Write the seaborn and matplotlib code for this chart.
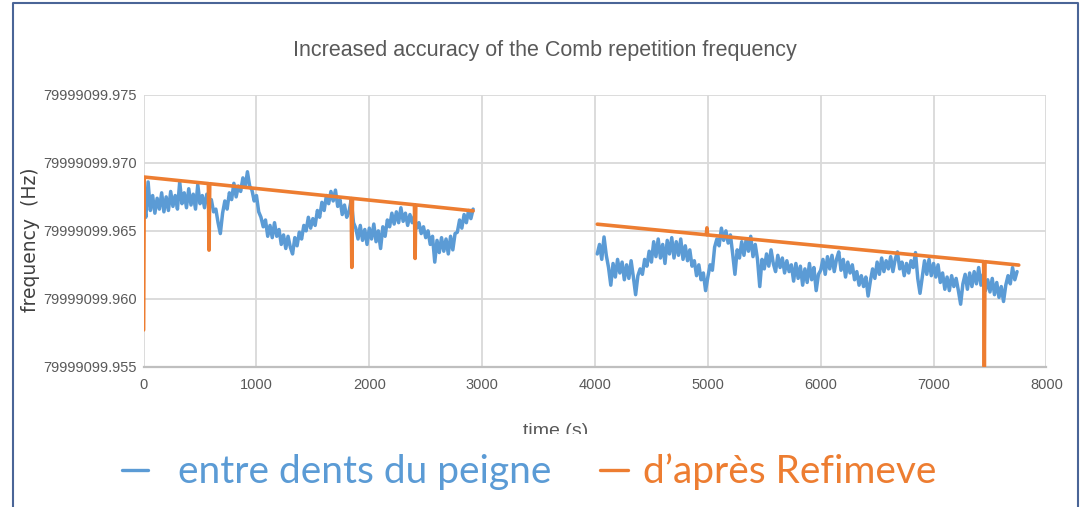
import numpy as np
import pandas as pd
import matplotlib
matplotlib.use("Agg")
import matplotlib.pyplot as plt
import seaborn as sns
from matplotlib.lines import Line2D
from matplotlib.patches import Rectangle
from matplotlib.ticker import FixedLocator, FuncFormatter

# ---------------- data (frequency offsets in mHz above 79999099.960 Hz) ----------------
BASE_HZ = 79999099.960

comb_time_1 = np.arange(0, 2921, 20)
comb_mhz_1 = [
    7.2, 6.0, 8.6, 6.5, 7.6, 6.3, 7.4, 6.6, 7.8, 6.4,
    7.5, 6.5, 7.9, 6.8, 7.6, 6.6, 8.6, 7.0, 7.8, 6.7,
    8.1, 6.9, 7.7, 6.6, 8.4, 7.0, 7.6, 6.7, 7.7, 6.9,
    7.3, 6.4, 6.6, 5.6, 4.8, 6.3, 7.2, 6.6, 7.8, 7.3,
    8.5, 7.5, 8.3, 7.9, 8.9, 8.2, 9.35, 8.3, 8.0, 7.2,
    7.6, 6.4, 6.0, 5.3, 5.8, 4.6, 5.4, 4.5, 5.6, 4.6,
    5.1, 4.0, 4.7, 3.7, 4.6, 3.8, 3.3, 4.5, 3.9, 4.9,
    4.4, 5.4, 5.0, 6.0, 5.2, 5.9, 5.4, 6.5, 6.0, 7.1,
    6.5, 7.6, 7.0, 7.9, 7.2, 8.0, 6.8, 7.3, 6.2, 6.9,
    6.0, 6.4, 7.3, 5.6, 5.2, 4.4, 5.4, 4.3, 5.1, 4.0,
    5.2, 4.4, 5.5, 4.2, 5.0, 3.7, 5.3, 4.6, 5.8, 5.3,
    6.3, 5.5, 6.4, 5.6, 6.7, 5.7, 6.3, 5.4, 6.2, 5.6,
    6.1, 5.2, 5.6, 4.8, 5.3, 4.5, 5.0, 4.0, 4.6, 2.7,
    4.3, 3.4, 4.5, 3.5, 4.4, 3.3, 4.6, 3.6, 4.8, 4.9,
    5.8, 5.2, 6.2, 5.6, 6.5, 5.9, 6.6,
]

comb_time_2 = np.arange(4020, 7741, 20)
comb_mhz_2 = [
    3.3, 4.0, 2.9, 4.55, 3.2, 2.3, 1.0, 2.6, 1.6, 2.9,
    1.9, 2.7, 1.4, 2.5, 1.5, 2.8, 1.6, 0.3, 1.7, 2.2,
    1.8, 2.9, 2.4, 3.5, 2.7, 4.2, 3.1, 4.4, 3.0, 4.0,
    2.6, 4.3, 3.3, 4.5, 3.0, 4.2, 3.2, 4.4, 2.9, 3.9,
    2.8, 3.6, 2.4, 2.8, 1.7, 2.5, 1.4, 1.9, 0.6, 1.6,
    2.5, 2.1, 3.8, 4.4, 3.9, 5.2, 4.3, 5.0, 4.1, 4.7,
    3.3, 1.8, 3.6, 3.0, 4.2, 3.2, 4.4, 3.5, 4.6, 3.1,
    4.0, 2.9, 0.9, 2.9, 2.2, 3.3, 2.4, 3.6, 2.6, 2.0,
    3.2, 2.3, 3.0, 1.9, 2.8, 2.0, 2.5, 1.3, 2.6, 1.5,
    2.4, 1.0, 2.2, 1.2, 2.6, 1.4, 2.3, 0.6, 1.8, 2.1,
    2.9, 1.8, 3.1, 2.2, 3.2, 2.0, 2.9, 3.45, 2.1, 2.9,
    1.6, 2.7, 1.9, 2.5, 1.4, 2.0, 1.0, 1.7, 0.9, 1.6,
    0.2, 1.3, 2.2, 1.5, 2.7, 1.8, 3.0, 2.0, 2.8, 2.2,
    3.1, 2.0, 2.9, 3.45, 2.2, 2.7, 1.7, 2.6, 1.9, 2.8,
    2.3, 3.4, 1.5, 0.4, 1.6, 2.8, 1.8, 2.9, 1.7, 2.6,
    1.6, 2.5, 1.2, 1.9, 0.7, 1.6, 0.6, 1.7, 0.9, 1.5,
    0.6, -0.4, 1.1, 1.8, 0.7, 1.9, 0.9, 2.0, 1.1, 2.3,
    1.0, 1.8, 0.6, 1.4, 0.5, 1.5, 0.3, 1.2, 0.1, 0.9,
    -0.2, 1.0, 1.7, 1.1, 2.3, 1.4, 2.0,
]

refimeve_time_1 = [0, 6, 574, 580, 586, 1839, 1845, 1851, 2400, 2406, 2412, 2920]
refimeve_mhz_1 = [-2.3, 8.96, 8.48, 3.58, 8.47, 7.40, 2.31, 7.39, 6.92, 2.97, 6.91, 6.47]
refimeve_time_2 = [4020, 4986, 4992, 4998, 7444, 7450, 7456, 7755]
refimeve_mhz_2 = [5.49, 4.71, 5.22, 4.70, 2.74, -5.0, 2.73, 2.48]

series_names = ["entre dents du peigne", "d\u2019apr\u00e8s Refimeve"]
x_ticks = [0, 1000, 2000, 3000, 4000, 5000, 6000, 7000, 8000]
y_ticks = [79999099.955, 79999099.960, 79999099.965, 79999099.970, 79999099.975]

TITLE = "Increased accuracy of the Comb repetition frequency"
X_LABEL = "time (s)"
Y_LABEL = "frequency  (Hz)"

# ---------------- long table ----------------
def part(times, mhz, name, seg):
    return pd.DataFrame({
        "time": np.asarray(times, dtype=float),
        "freq": BASE_HZ + np.asarray(mhz, dtype=float) / 1000.0,
        "series": name,
        "segment": seg,
    })

df = pd.concat([
    part(comb_time_1, comb_mhz_1, series_names[0], 1),
    part(comb_time_2, comb_mhz_2, series_names[0], 2),
    part(refimeve_time_1, refimeve_mhz_1, series_names[1], 3),
    part(refimeve_time_2, refimeve_mhz_2, series_names[1], 4),
], ignore_index=True)

BLUE = "#5B9BD5"
ORANGE = "#ED7D31"
palette = {series_names[0]: BLUE, series_names[1]: ORANGE}

# ---------------- figure ----------------
sns.set_theme(style="white")
plt.rcParams["font.family"] = ["Liberation Sans", "DejaVu Sans"]

W, H = 1082, 507
fig = plt.figure(figsize=(W / 100, H / 100), dpi=100)
ax_l, ax_r, ax_t, ax_b = 143.6, 1046.4, 95.0, 366.7
ax = fig.add_axes([ax_l / W, 1 - ax_b / H, (ax_r - ax_l) / W, (ax_b - ax_t) / H])

blue_df = df[df["series"] == series_names[0]]
orange_df = df[df["series"] == series_names[1]]
sns.lineplot(data=blue_df, x="time", y="freq", hue="series", units="segment",
             estimator=None, sort=False, palette=palette, linewidth=2.5,
             legend=False, ax=ax, zorder=3)
sns.lineplot(data=orange_df, x="time", y="freq", hue="series", units="segment",
             estimator=None, sort=False, palette=palette, linewidth=2.6,
             legend=False, ax=ax, zorder=4)

ax.set_xlim(0, 8000)
ax.set_ylim(y_ticks[0], y_ticks[-1])
ax.xaxis.set_major_locator(FixedLocator(x_ticks))
ax.yaxis.set_major_locator(FixedLocator(y_ticks))
ax.yaxis.set_major_formatter(FuncFormatter(lambda v, p: f"{v:.3f}"))
ax.xaxis.set_major_formatter(FuncFormatter(lambda v, p: f"{int(round(v))}"))
ax.grid(True, color="#D9D9D9", linewidth=1.3)
ax.set_axisbelow(True)
for s in ["top", "right", "left"]:
    ax.spines[s].set_visible(False)
ax.spines["bottom"].set_color("#BFBFBF")
ax.spines["bottom"].set_linewidth(1.6)
ax.tick_params(axis="both", length=0, colors="#595959", labelsize=10.5)
ax.tick_params(axis="y", pad=5)
ax.tick_params(axis="x", pad=8)
ax.set_xlabel("")
ax.set_ylabel("")

# y label (wider font)
fig.text(30 / W, 1 - 240 / H, Y_LABEL, rotation=90, ha="center", va="center",
         fontsize=13.5, color="#404040", family=["DejaVu Sans"])

# title
fig.text(545 / W, 1 - 50 / H, TITLE, ha="center", va="center",
         fontsize=15.5, color="#595959")

# x label (partly hidden by legend box)
fig.text(556 / W, 1 - 431 / H, X_LABEL, ha="center", va="center",
         fontsize=14, color="#595959")

# legend box covering the lower part of the x label
fig.patches.append(Rectangle((100 / W, 1 - 503 / H), 860 / W, 69 / H,
                             transform=fig.transFigure, facecolor="white",
                             edgecolor="none", zorder=5))
leg_y = 1 - 470 / H
fig.lines.append(Line2D([122 / W, 148 / W], [leg_y, leg_y], transform=fig.transFigure,
                        color=BLUE, linewidth=2.4, zorder=6))
fig.text(178 / W, 1 - 472 / H, series_names[0], ha="left", va="center",
         fontsize=28, color=BLUE, family=["Lato", "DejaVu Sans"], zorder=6)
fig.lines.append(Line2D([600 / W, 628 / W], [leg_y, leg_y], transform=fig.transFigure,
                        color=ORANGE, linewidth=2.4, zorder=6))
fig.text(643 / W, 1 - 472 / H, series_names[1], ha="left", va="center",
         fontsize=28, color=ORANGE, family=["Lato", "DejaVu Sans"], zorder=6)

# outer frame (left, top, right)
frame_c = "#4A6597"
fig.lines.append(Line2D([13 / W, 13 / W, 1078 / W, 1078 / W],
                        [0, 1 - 3 / H, 1 - 3 / H, 0], transform=fig.transFigure,
                        color=frame_c, linewidth=1.5, zorder=7))

fig.savefig("out.png", dpi=100)
